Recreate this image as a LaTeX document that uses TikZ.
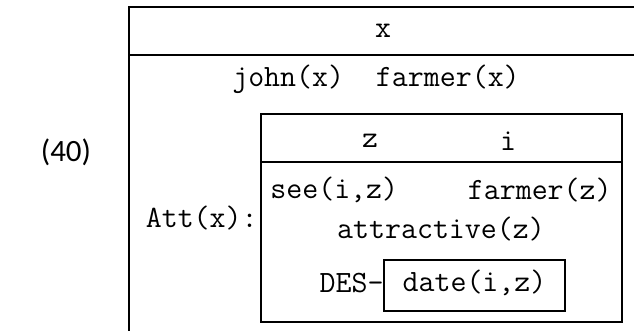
\documentclass[tikz,border=0pt]{standalone}
\usepackage{fontspec}
\setmainfont{Carlito}
\begin{document}
\begin{tikzpicture}[x=0.5pt,y=-0.5pt,
  tt/.style={font=\fontsize{15.5}{18}\selectfont\ttfamily, inner sep=0pt},
  lbl/.style={font=\fontsize{15.5}{18}\selectfont, inner sep=0pt},
  boxline/.style={line width=0.6pt, draw=black}]
\useasboundingbox (0,0) rectangle (634,331);
\clip (0,0) rectangle (634,331);
% outer box
\draw[boxline] (129,345) -- (129,7) -- (650,7);
\draw[boxline] (129,55) -- (650,55);
\node[tt] (vx) at (383,31) {x};
\node[tt] (cond1) at (376,79) {john(x)~~farmer(x)};
\node[lbl] (num) at (66,152) {(40)};
\node[tt, anchor=east] (att) at (258,218) {Att(x):};
% inner box
\draw[boxline] (261,114) rectangle (622,322);
\draw[boxline] (261,162) -- (622,162);
\node[tt] (vz) at (370,141) {z};
\node[tt] (vi) at (508,141) {i};
\node[tt, anchor=west] (see) at (270,190) {see(i,z)};
\node[tt, anchor=east] (farm) at (612,190) {farmer(z)};
\node[tt] (attr) at (441,229) {attractive(z)};
% DES box
\draw[boxline] (384,260) rectangle (565,311);
\node[tt, anchor=east] (des) at (384,283) {DES-};
\node[tt] (date) at (474.5,283) {date(i,z)};
\end{tikzpicture}
\end{document}
